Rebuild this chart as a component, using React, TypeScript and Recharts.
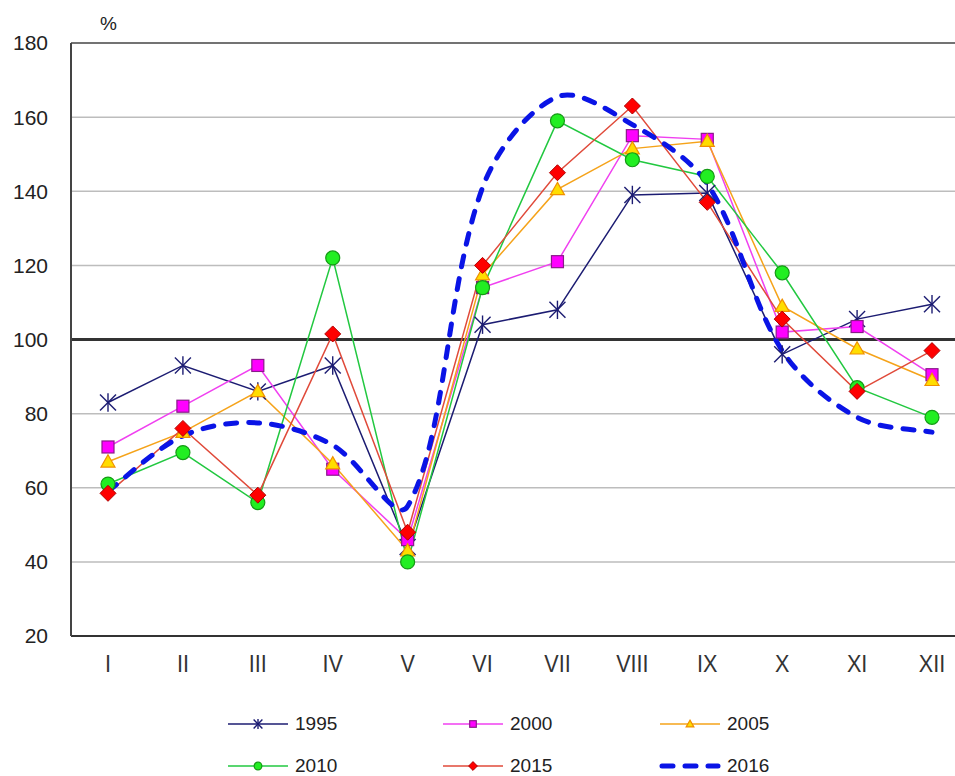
import React from "react";
import { LineChart, Line, XAxis, YAxis, CartesianGrid, ReferenceLine } from "recharts";

const MONTHS = ["I", "II", "III", "IV", "V", "VI", "VII", "VIII", "IX", "X", "XI", "XII"];
const Y_TICKS = [20, 40, 60, 80, 100, 120, 140, 160, 180];

const Y1995 = [83, 93, 86, 93, 44, 104, 108, 139, 139.5, 96, 105.5, 109.5];
const Y2000 = [71, 82, 93, 65, 46, 114, 121, 155, 154, 102, 103.5, 90.5];
const Y2005 = [67, 75, 86, 66.5, 43, 117.5, 140.5, 151.5, 153.5, 109, 97.5, 89];
const Y2010 = [61, 69.5, 56, 122, 40, 114, 159, 148.5, 144, 118, 87, 79];
const Y2015 = [58.5, 76, 58, 101.5, 48, 120, 145, 163, 137, 105.5, 86, 97];
const Y2016 = [59, 74, 77.5, 71.5, 55, 141, 165.5, 158, 142, 97, 79, 75];

const FONT = "'Liberation Sans', Arial, sans-serif";

type Kind = "star" | "square" | "triangle" | "circle" | "diamond" | "none";

const SERIES = [
  { key: "y1995", name: "1995", values: Y1995, line: "#1c1c72", fill: "#1c1c72", stroke: "#1c1c72", kind: "star" as Kind },
  { key: "y2000", name: "2000", values: Y2000, line: "#f040f0", fill: "#ff00ff", stroke: "#8a1a8a", kind: "square" as Kind },
  { key: "y2005", name: "2005", values: Y2005, line: "#f5a31a", fill: "#ffdd00", stroke: "#f09000", kind: "triangle" as Kind },
  { key: "y2010", name: "2010", values: Y2010, line: "#22c840", fill: "#22ee22", stroke: "#159a15", kind: "circle" as Kind },
  { key: "y2015", name: "2015", values: Y2015, line: "#e04a3a", fill: "#ff0000", stroke: "#b00000", kind: "diamond" as Kind },
  { key: "y2016", name: "2016", values: Y2016, line: "#0a14e6", fill: "none", stroke: "none", kind: "none" as Kind },
];

const data = MONTHS.map((m, i) => {
  const row: any = { month: m };
  SERIES.forEach((s) => (row[s.key] = s.values[i]));
  return row;
});

// smoothed line like the spreadsheet one: bezier arms scaled by neighbouring chord lengths
const smoothCurve = (context: any) => {
  let pts: number[][] = [];
  return {
    areaStart() {},
    areaEnd() {},
    lineStart() {
      pts = [];
    },
    point(x: number, y: number) {
      pts.push([+x, +y]);
    },
    lineEnd() {
      const n = pts.length;
      if (!n) return;
      context.moveTo(pts[0][0], pts[0][1]);
      if (n === 1) return;
      const dist = (a: number[], b: number[]) => Math.hypot(b[0] - a[0], b[1] - a[1]);
      const tan = (i: number) => {
        const p = pts[Math.max(0, i - 1)];
        const q = pts[Math.min(n - 1, i + 1)];
        return [q[0] - p[0], q[1] - p[1]];
      };
      for (let i = 0; i < n - 1; i++) {
        const p0 = pts[i];
        const p1 = pts[i + 1];
        const d = dist(p0, p1);
        const dPrev = i > 0 ? dist(pts[i - 1], p0) : d;
        const dNext = i < n - 2 ? dist(p1, pts[i + 2]) : d;
        const t0 = tan(i);
        const t1 = tan(i + 1);
        const k0 = d / (dPrev + d) / 3;
        const k1 = d / (d + dNext) / 3;
        context.bezierCurveTo(
          p0[0] + t0[0] * k0,
          p0[1] + t0[1] * k0,
          p1[0] - t1[0] * k1,
          p1[1] - t1[1] * k1,
          p1[0],
          p1[1]
        );
      }
    },
  };
};

const Marker = ({ kind, cx, cy, fill, stroke, s = 1 }: any) => {
  if (cx == null || cy == null) return null;
  switch (kind) {
    case "star": {
      const a = 8 * s;
      return (
        <g stroke={stroke} strokeWidth={1.4}>
          <line x1={cx - a} y1={cy - a} x2={cx + a} y2={cy + a} />
          <line x1={cx - a} y1={cy + a} x2={cx + a} y2={cy - a} />
          <line x1={cx} y1={cy - a * 1.15} x2={cx} y2={cy + a * 1.15} />
        </g>
      );
    }
    case "square": {
      const a = 6 * s;
      return <rect x={cx - a} y={cy - a} width={a * 2} height={a * 2} fill={fill} stroke={stroke} strokeWidth={1.2} />;
    }
    case "triangle": {
      const a = 7 * s;
      return (
        <polygon
          points={`${cx},${cy - a} ${cx + a},${cy + a * 0.75} ${cx - a},${cy + a * 0.75}`}
          fill={fill}
          stroke={stroke}
          strokeWidth={1.2}
        />
      );
    }
    case "circle":
      return <circle cx={cx} cy={cy} r={7 * s} fill={fill} stroke={stroke} strokeWidth={1.2} />;
    case "diamond": {
      const a = 8 * s;
      return (
        <polygon
          points={`${cx},${cy - a} ${cx + a},${cy} ${cx},${cy + a} ${cx - a},${cy}`}
          fill={fill}
          stroke={stroke}
          strokeWidth={1}
        />
      );
    }
    default:
      return null;
  }
};

// month labels: slightly condensed, like the original narrow font
const MonthTick = ({ x, y, payload }: any) => (
  <text
    transform={`translate(${x},${y + 21}) scale(0.9,1)`}
    textAnchor="middle"
    fontFamily={FONT}
    fontSize={24}
    fill="#333"
  >
    {payload.value}
  </text>
);

const LEGEND_POS = [
  { left: 226, top: 724 },
  { left: 441, top: 724 },
  { left: 658, top: 724 },
  { left: 226, top: 766 },
  { left: 441, top: 766 },
  { left: 658, top: 766 },
];

export default function App() {
  return (
    <div style={{ position: "absolute", left: 0, top: 0, width: 955, height: 776, overflow: "hidden", background: "#fff" }}>
      <LineChart width={975} height={776} data={data} margin={{ top: 43, right: 6, left: 0, bottom: 100 }}>
        <CartesianGrid vertical={false} stroke="#bdbdbd" strokeWidth={1.5} />
        <XAxis
          dataKey="month"
          height={40}
          padding={{ left: 37, right: 37 }}
          tickLine={false}
          tickSize={0}
          tickMargin={15}
          axisLine={{ stroke: "#333", strokeWidth: 2 }}
          tick={<MonthTick />}
        />
        <YAxis
          width={71}
          domain={[20, 180]}
          ticks={Y_TICKS}
          interval={0}
          tickLine={false}
          tickSize={0}
          tickMargin={23}
          axisLine={{ stroke: "#444", strokeWidth: 2 }}
          tick={{ fill: "#222", fontSize: 21, fontFamily: FONT }}
        />
        <ReferenceLine y={180} stroke="#555" strokeWidth={1.5} />
        <ReferenceLine y={100} stroke="#333" strokeWidth={3} />
        {SERIES.map((s) =>
          s.kind === "none" ? (
            <Line
              key={s.key}
              dataKey={s.key}
              name={s.name}
              type={smoothCurve as any}
              stroke={s.line}
              strokeWidth={5}
              strokeDasharray="11 12"
              strokeLinecap="round"
              dot={false}
              activeDot={false}
              isAnimationActive={false}
            />
          ) : (
            <Line
              key={s.key}
              dataKey={s.key}
              name={s.name}
              type="linear"
              stroke={s.line}
              strokeWidth={1.5}
              dot={(p: any) => (
                <Marker key={`${s.key}-${p.index}`} kind={s.kind} cx={p.cx} cy={p.cy} fill={s.fill} stroke={s.stroke} />
              )}
              activeDot={false}
              isAnimationActive={false}
            />
          )
        )}
      </LineChart>
      <div style={{ position: "absolute", left: 100, top: 13, fontFamily: FONT, fontSize: 19, color: "#222" }}>%</div>
      {SERIES.map((s, i) => (
        <div
          key={s.key}
          style={{ position: "absolute", left: LEGEND_POS[i].left, top: LEGEND_POS[i].top - 11, height: 22, display: "flex", alignItems: "center" }}
        >
          <svg width={64} height={22}>
            {s.kind === "none" ? (
              <line x1={4} y1={11} x2={60} y2={11} stroke={s.line} strokeWidth={5} strokeDasharray="11 12" strokeLinecap="round" />
            ) : (
              <>
                <line x1={2} y1={11} x2={62} y2={11} stroke={s.line} strokeWidth={1.5} />
                <Marker kind={s.kind} cx={32} cy={11} fill={s.fill} stroke={s.stroke} s={0.55} />
              </>
            )}
          </svg>
          <span style={{ marginLeft: 5, fontFamily: FONT, fontSize: 19, color: "#222" }}>{s.name}</span>
        </div>
      ))}
    </div>
  );
}
